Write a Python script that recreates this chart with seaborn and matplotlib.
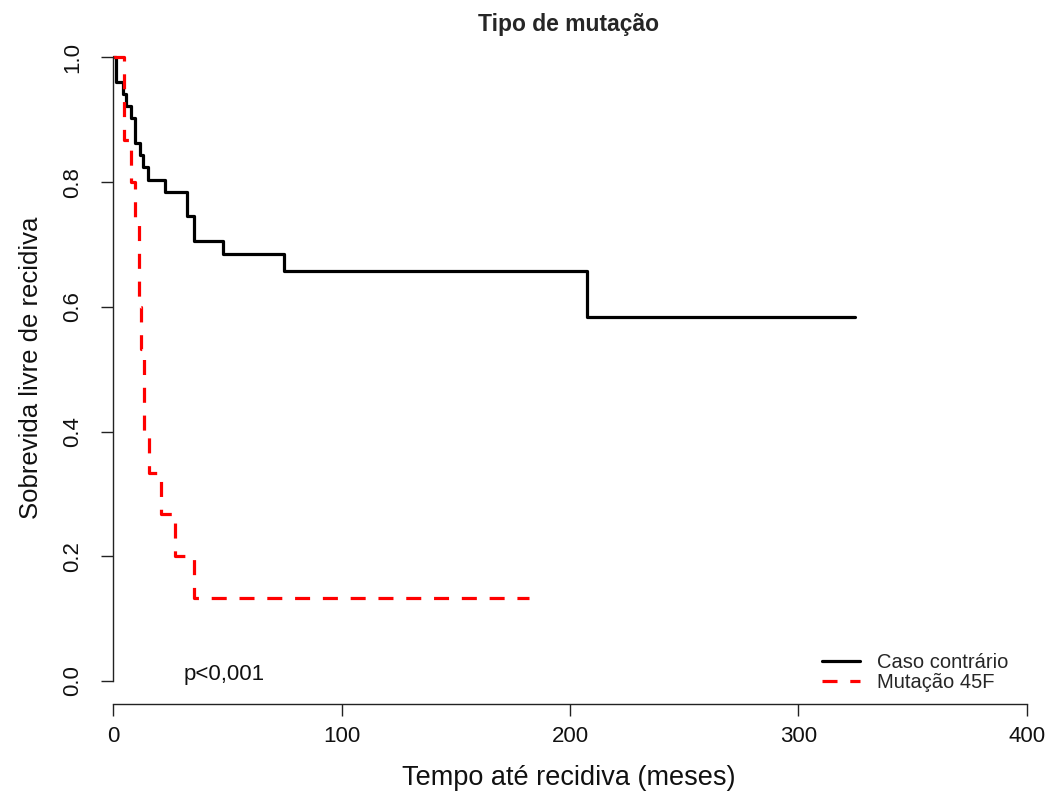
import numpy as np
import pandas as pd
import matplotlib
matplotlib.use("Agg")
import matplotlib.pyplot as plt
import seaborn as sns

# Kaplan-Meier estimates (time in months, relapse-free survival)
groups = ["Caso contrário", "Mutação 45F"]

time_caso = [0, 1.1, 4.2, 5.7, 7.9, 9.5, 11.7, 13.1, 15.0, 22.6, 32.4, 35.4,
             48.1, 74.9, 207.4, 324.8]
surv_caso = [1.0, 0.961, 0.941, 0.922, 0.902, 0.863, 0.843, 0.824, 0.804,
             0.784, 0.745, 0.706, 0.684, 0.657, 0.584, 0.584]

time_45f = [0, 4.6, 7.9, 9.5, 11.2, 12.1, 13.2, 15.6, 20.8, 27.0, 35.3, 182.0]
surv_45f = [1.0, 0.867, 0.800, 0.733, 0.600, 0.533, 0.400, 0.333, 0.267,
            0.200, 0.133, 0.133]

x_ticks = [0, 100, 200, 300, 400]
y_ticks = [0.0, 0.2, 0.4, 0.6, 0.8, 1.0]
y_tick_labels = ["0.0", "0.2", "0.4", "0.6", "0.8", "1.0"]

title_text = "Tipo de mutação"
x_label = "Tempo até recidiva (meses)"
y_label = "Sobrevida livre de recidiva"
p_text = "p<0,001"

df = pd.concat([
    pd.DataFrame({"tempo": time_caso, "sobrevida": surv_caso, "grupo": groups[0]}),
    pd.DataFrame({"tempo": time_45f, "sobrevida": surv_45f, "grupo": groups[1]}),
], ignore_index=True)

sns.set_style("white")
plt.rcParams["font.family"] = ["Liberation Sans", "DejaVu Sans"]

fig = plt.figure(figsize=(10.54, 7.91), dpi=100)
ax = fig.add_axes([0.1076, 0.110, 0.8772, 0.849])

palette = {groups[0]: "black", groups[1]: "#ff0000"}
dashes = {groups[0]: "", groups[1]: (4.7, 4.0)}

sns.lineplot(data=df, x="tempo", y="sobrevida", hue="grupo", style="grupo",
             hue_order=groups, style_order=groups, palette=palette,
             dashes=dashes, estimator=None, sort=True, drawstyle="steps-post",
             linewidth=2.3, ax=ax, legend=True)

ax.set_xlim(0, 405)
ax.set_ylim(-0.037, 1.04)

for side in ["top", "right"]:
    ax.spines[side].set_visible(False)
for side in ["left", "bottom"]:
    ax.spines[side].set_color("#222222")
    ax.spines[side].set_linewidth(1.0)
ax.spines["left"].set_bounds(0, 1)
ax.spines["bottom"].set_bounds(0, 400)

ax.set_xticks(x_ticks)
ax.set_yticks(y_ticks)
ax.set_yticklabels(y_tick_labels, rotation=90, va="center")
ax.tick_params(axis="both", which="major", bottom=True, left=True,
               direction="out", length=8.6, width=1.0,
               color="#222222", labelsize=16, labelcolor="#111111")
ax.tick_params(axis="x", pad=7)
ax.tick_params(axis="y", pad=13)

ax.set_xlabel(x_label, fontsize=19.5, color="#111111")
ax.xaxis.set_label_coords(0.492, -0.091)
ax.set_ylabel(y_label, fontsize=18.5, labelpad=14, color="#111111")
ax.set_title(title_text, fontsize=16.5, fontweight="bold", x=0.492, pad=1)

ax.text(48.7, 0.01, p_text, ha="center", va="center", fontsize=16,
        color="#111111")

handles, labels = ax.get_legend_handles_labels()
leg = ax.legend(handles, labels, loc="center left",
                bbox_to_anchor=(0.7664, 0.0462), frameon=False, fontsize=14.5,
                borderpad=0, borderaxespad=0, handlelength=1.9,
                handletextpad=0.85, labelspacing=0.05)
for h in leg.legend_handles:
    h.set_linewidth(2.3)

fig.savefig("out.png", dpi=100, facecolor="white")
